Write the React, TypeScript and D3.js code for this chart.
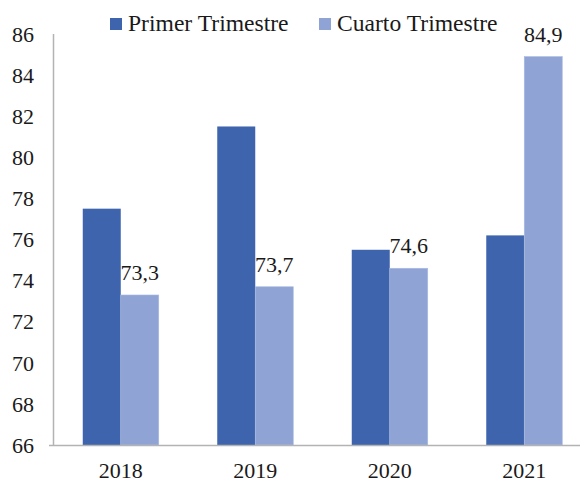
import React from "react";
import * as d3 from "d3";

const years = ["2018", "2019", "2020", "2021"];
const primer = [77.5, 81.5, 75.5, 76.2];
const cuarto = [73.3, 73.7, 74.6, 84.9];
const cuartoLabels = ["73,3", "73,7", "74,6", "84,9"];
const yTicks = [66, 68, 70, 72, 74, 76, 78, 80, 82, 84, 86];
const seriesNames = ["Primer Trimestre", "Cuarto Trimestre"];

const W = 580;
const H = 483;
const font = "Liberation Serif, serif";
const darkBlue = "#3d64ad";
const lightBlue = "#8fa4d5";

const App = () => {
  const x = d3.scaleBand().domain(years).range([53.5, 591.5]).paddingInner(0.435).paddingOuter(0.2175);
  const inner = d3.scaleBand().domain(["p", "c"]).range([0, x.bandwidth()]);
  const y = d3.scaleLinear().domain([66, 86]).range([445, 34]);

  const txt = { fontFamily: font, fill: "#1a1a1a" };

  return (
    <svg width={W} height={H} style={{ display: "block", position: "absolute", left: 0, top: 0 }}>
      <rect width={W} height={H} fill="#fff" />

      {/* legend */}
      <rect x={110} y={18} width={12} height={12} fill={darkBlue} />
      <text x={128} y={31} style={{ ...txt, fontSize: 23.6 }}>{seriesNames[0]}</text>
      <rect x={319} y={18} width={12} height={12} fill={lightBlue} />
      <text x={337} y={31} style={{ ...txt, fontSize: 23.6 }}>{seriesNames[1]}</text>

      {/* y ticks */}
      {yTicks.map(t => (
        <text key={t} x={34} y={y(t)} dy="0.35em" textAnchor="end" style={{ ...txt, fontSize: 22 }}>
          {t}
        </text>
      ))}

      {/* bars */}
      {years.map((yr, i) => (
        <g key={yr} transform={`translate(${x(yr)},0)`}>
          <rect x={inner("p")} y={y(primer[i])} width={inner.bandwidth()} height={y(66) - y(primer[i])} fill={darkBlue} />
          <rect x={inner("c")} y={y(cuarto[i])} width={inner.bandwidth()} height={y(66) - y(cuarto[i])} fill={lightBlue} stroke="#a9b9e0" strokeWidth={0.6} />
          <text x={inner("c") + inner.bandwidth() / 2} y={y(cuarto[i]) - 15} textAnchor="middle" style={{ ...txt, fontSize: 22 }}>
            {cuartoLabels[i]}
          </text>
          <text x={x.bandwidth() / 2} y={478} textAnchor="middle" style={{ ...txt, fontSize: 22 }}>
            {yr}
          </text>
        </g>
      ))}

      {/* axes */}
      <line x1={53.5} x2={53.5} y1={34} y2={445} stroke="#b3b3b3" strokeWidth={1.5} />
      <line x1={49} x2={W} y1={445.5} y2={445.5} stroke="#b3b3b3" strokeWidth={1.5} />
    </svg>
  );
};

export default App;
